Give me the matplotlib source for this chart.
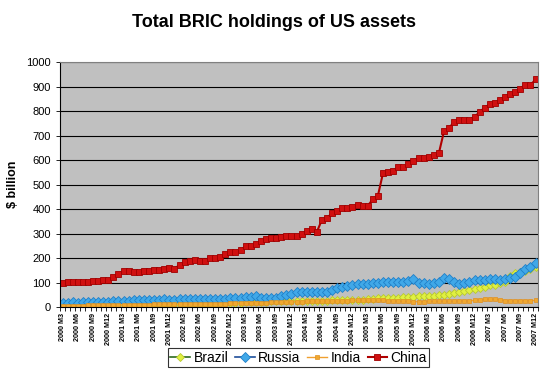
import matplotlib.pyplot as plt

plt.rcParams['font.family'] = ['Liberation Sans', 'DejaVu Sans']

# monthly categories 2000 M3 .. 2007 M12
months = []
for yr in range(2000, 2008):
    for m in range(1, 13):
        if yr == 2000 and m < 3:
            continue
        months.append(f"{yr} M{m}")

brazil = [10, 10, 11, 11, 11, 12, 12, 12, 12, 12,
          12, 13, 13, 13, 13, 13, 13, 13, 12, 12,
          12, 12, 12, 12, 12, 13, 13, 13, 14, 14,
          14, 15, 15, 16, 17, 18, 20, 21, 22, 22,
          22, 23, 23, 24, 24, 25,
          25, 24, 25, 26, 25, 26, 25,
          27, 27, 28, 28, 29, 29,
          30, 31, 33, 35, 36, 37, 38,
          39, 40, 42, 43, 44, 44, 45,
          46, 48, 50, 53, 57, 62,
          66, 69, 73, 78, 83, 88,
          92, 98, 104, 125,
          138, 143, 148, 155, 163]

russia = [16, 18, 19, 18, 20, 20, 21, 21, 22, 22,
          23, 24, 25, 26, 27, 27, 28, 29, 30, 30,
          31, 30, 30, 31, 32, 31, 32, 31, 32, 33,
          34, 33, 34, 35, 36, 38, 40, 42, 46, 39,
          37, 37, 38, 44, 51, 55,
          60, 63, 60, 63, 63, 60, 63, 69, 76, 83,
          87, 92, 93, 96, 96, 99, 99, 103, 103, 103,
          103, 103, 107, 116, 99, 99, 93, 99, 103, 120,
          116, 103, 96, 99, 103, 109, 112, 112, 116, 116,
          112, 116, 120, 123, 140, 155, 165, 180]

india = [5, 5, 6, 6, 6, 7, 7, 7, 8, 8,
         8, 9, 9, 9, 10, 10, 10, 10, 11, 11,
         11, 11, 11, 12, 12, 12, 12, 13, 13, 13,
         14, 14, 14, 15, 15, 16, 16, 17, 17, 18,
         18, 19, 19, 20, 20, 21,
         22, 22, 23, 23, 24, 24, 24,
         25, 25, 26, 26, 27, 27,
         28, 28, 29, 28, 27,
         25, 24, 23, 23, 23, 22, 22, 22, 23,
         23, 23, 24, 24, 24, 25, 25, 25,
         27, 29, 31, 32, 31, 30,
         26, 25, 25, 26, 26, 26, 27]

china = [99, 101, 103, 103, 103, 103, 105, 108, 112, 112,
         122, 136, 147, 147, 142, 144, 147, 149, 152, 153,
         157, 160, 157, 171, 185, 190, 194, 188, 188, 199,
         199, 204, 215, 225, 225, 231, 249, 249, 256, 270,
         276, 281, 283, 286, 289,
         290, 290, 297, 311, 318, 307, 356, 365, 382, 393,
         406, 406, 409, 417, 413, 413, 440, 454, 546, 553,
         557, 570, 570, 584, 598, 609, 609, 614, 622, 629,
         717, 732, 755, 765, 762, 765, 776, 796, 814, 828,
         835, 844, 858, 871, 878, 892, 908, 906, 929]

x = list(range(len(months)))

fig = plt.figure(figsize=(5.47, 3.74), dpi=100)
ax = fig.add_axes([0.1097, 0.179, 0.874, 0.655])
ax.set_facecolor('#C0C0C0')

ax.plot(x, brazil, color='#2E6B1F', linewidth=1.2, marker='D', markersize=4.2,
        markerfacecolor='#E0F040', markeredgecolor='#B8C830', markeredgewidth=0.6, label='Brazil')
ax.plot(x, russia, color='#1F4E99', linewidth=1.2, marker='D', markersize=5.2,
        markerfacecolor='#40A8E8', markeredgecolor='#2080C8', markeredgewidth=0.6, label='Russia')
ax.plot(x, india, color='#F0A030', linewidth=1.0, marker='s', markersize=2.8,
        markerfacecolor='#F0A830', markeredgecolor='#E09020', markeredgewidth=0.5, label='India')
ax.plot(x, china, color='#B00000', linewidth=1.5, marker='s', markersize=4,
        markerfacecolor='#D01010', markeredgecolor='#A00000', markeredgewidth=0.6, label='China')

ax.set_xlim(-0.5, len(months) - 0.5)
ax.set_ylim(0, 1000)
ax.set_yticks(range(0, 1001, 100))
ax.yaxis.grid(True, color='black', linewidth=0.8)
ax.set_axisbelow(True)

ax.set_xticks([i - 0.5 for i in range(len(months) + 1)], minor=True)
ax.set_xticks(x[::3])
ax.set_xticklabels(months[::3], rotation=90, fontsize=5.2, fontweight='bold')
ax.tick_params(axis='x', which='major', length=0, pad=4)
ax.tick_params(axis='x', which='minor', length=3, width=0.6)
ax.tick_params(axis='y', labelsize=8, length=3, width=0.6)

for side in ['top', 'right']:
    ax.spines[side].set_color('#808080')
    ax.spines[side].set_linewidth(0.8)
ax.spines['left'].set_linewidth(0.8)
ax.spines['bottom'].set_linewidth(0.8)

ax.set_ylabel('$ billion', fontsize=9, fontweight='bold', labelpad=5)
fig.text(0.5, 0.94, 'Total BRIC holdings of US assets', ha='center', va='center',
         fontsize=13, fontweight='bold')

leg = fig.legend(loc='center', bbox_to_anchor=(0.546, 0.044), ncol=4, fontsize=10,
                 frameon=True, fancybox=False, edgecolor='black', handlelength=1.4,
                 handletextpad=0.25, columnspacing=0.5, borderpad=0.15, borderaxespad=0)
leg.get_frame().set_linewidth(0.8)

plt.savefig('out.png', dpi=100)
